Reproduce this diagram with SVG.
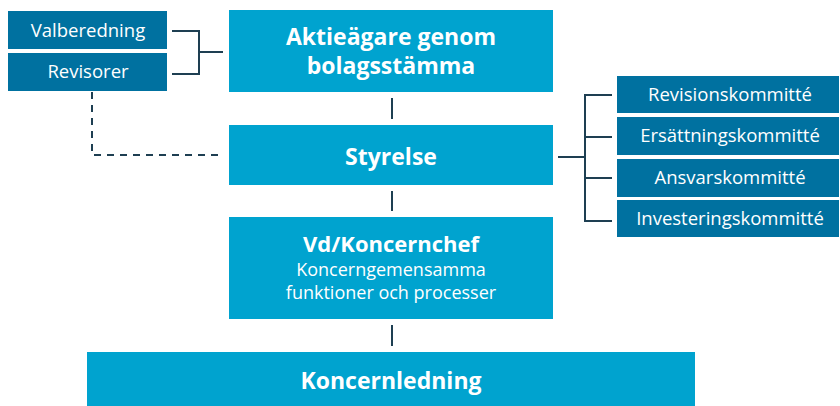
<svg xmlns="http://www.w3.org/2000/svg" width="840" height="406" viewBox="0 0 840 406">
<style>
.dark{fill:#0071a0}
.light{fill:#00a3cf}
.t{font-family:"Open Sans","Noto Sans","Liberation Sans",sans-serif;fill:#ffffff;text-anchor:middle}
.s{font-size:18.5px}
.b{font-size:23px;font-weight:700}
.m{font-size:18px}
.ln{stroke:#1e3f52;stroke-width:2;fill:none}
.dash{stroke:#1e3f52;stroke-width:2;fill:none;stroke-dasharray:7,6}
</style>
<rect width="840" height="406" fill="#ffffff"/>
<g id="connectors">
<path class="ln" d="M172 31H199V74H172M199 52H223"/>
<path class="ln" d="M392 98V119M392 191V211M392 325V346"/>
<path class="dash" d="M92 92V155H222"/>
<path class="ln" d="M558 157H585M612 95H585V221H612M585 137H612M585 178H612"/>
</g>
<g id="valberedning"><rect class="dark" x="8" y="11" width="159" height="38"/><text class="t s" x="88" y="37">Valberedning</text></g>
<g id="revisorer"><rect class="dark" x="8" y="53" width="159" height="38"/><text class="t s" x="88" y="78">Revisorer</text></g>
<g id="aktieagare"><rect class="light" x="229" y="10" width="324" height="82"/><text class="t b" x="391" y="45">Aktieägare genom</text><text class="t b" x="391" y="74">bolagsstämma</text></g>
<g id="styrelse"><rect class="light" x="229" y="125" width="324" height="60"/><text class="t b" x="391" y="165">Styrelse</text></g>
<g id="vd"><rect class="light" x="229" y="217" width="324" height="102"/><text class="t b" x="391" y="252" style="font-size:22px">Vd/Koncernchef</text><text class="t m" x="391" y="276">Koncerngemensamma</text><text class="t m" x="391" y="299">funktioner och processer</text></g>
<g id="koncernledning"><rect class="light" x="87" y="352" width="608" height="54"/><text class="t b" x="391" y="389">Koncernledning</text></g>
<g id="revisionskommitte"><rect class="dark" x="617" y="76" width="222" height="37"/><text class="t s" x="730" y="101">Revisionskommitté</text></g>
<g id="ersattningskommitte"><rect class="dark" x="617" y="117" width="222" height="38"/><text class="t s" x="730" y="142">Ersättningskommitté</text></g>
<g id="ansvarskommitte"><rect class="dark" x="617" y="159" width="222" height="38"/><text class="t s" x="730" y="184">Ansvarskommitté</text></g>
<g id="investeringskommitte"><rect class="dark" x="617" y="200" width="222" height="37"/><text class="t s" x="730" y="225">Investeringskommitté</text></g>
</svg>
